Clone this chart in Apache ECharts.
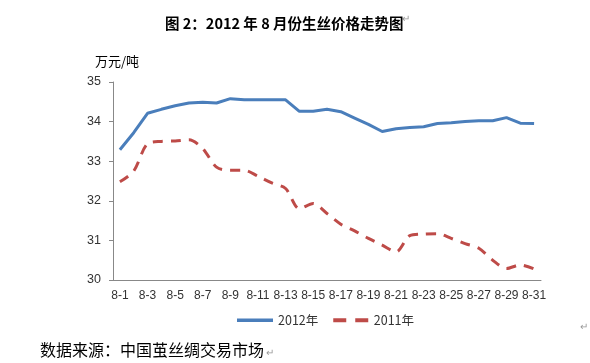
<!DOCTYPE html>
<html><head><meta charset="utf-8">
<script src="https://cdn.jsdelivr.net/npm/echarts@6/dist/echarts.min.js"></script>
<style>html,body{margin:0;padding:0;background:#fff}#c{width:590px;height:363px}</style>
</head><body><div id="c"></div>
<script>
var categories = [];
for (var d = 1; d <= 31; d++) categories.push('8-' + d);
var series2012 = [33.29,33.72,34.21,34.31,34.40,34.47,34.49,34.47,34.58,34.55,34.55,34.55,34.55,34.26,34.26,34.31,34.25,34.09,33.93,33.75,33.82,33.85,33.87,33.95,33.97,34.00,34.02,34.02,34.10,33.96,33.95];
var series2011 = [32.48,32.75,33.44,33.50,33.51,33.54,33.32,32.85,32.77,32.77,32.62,32.45,32.31,31.80,31.93,31.68,31.41,31.24,31.05,30.88,30.71,31.12,31.16,31.17,31.05,30.92,30.80,30.50,30.29,30.38,30.28];
var yTicks = [30,31,32,33,34,35];
var seriesNames = ['2012年','2011年'];

var chart = echarts.init(document.getElementById('c'), null, {renderer:'canvas'});
var txt = '#333';
chart.setOption({
  animation: false,
  backgroundColor: '#fff',
  textStyle: {fontFamily: 'Noto Sans CJK SC, sans-serif'},
  title: {
    text: '图 2：2012 年 8 月份生丝价格走势图',
    left: 160, top: 11,
    textStyle: {fontFamily: 'Noto Sans CJK SC', fontWeight: 'bold', fontSize: 14.5, color: '#000'}
  },
  legend: {
    data: [
      {name: seriesNames[0], icon: 'path://M0,0H40V4H0Z'},
      {name: seriesNames[1], icon: 'path://M0,0H13V4H0Z M22,0H35V4H22Z'}
    ],
    left: 232, top: 309, itemWidth: 36, itemHeight: 4, itemGap: 15,
    textStyle: {fontSize: 12.5, color: txt, fontFamily: 'Noto Sans CJK SC'}
  },
  grid: {left: 113, right: 49, top: 82, bottom: 83},
  xAxis: {
    type: 'category', data: categories, boundaryGap: true,
    axisLine: {lineStyle: {color: '#888'}},
    axisTick: {interval: 1, length: 4, lineStyle: {color: '#888'}},
    axisLabel: {interval: 1, color: txt, fontSize: 12, margin: 10, fontFamily: 'Liberation Sans'}
  },
  yAxis: {
    type: 'value', min: yTicks[0], max: yTicks[yTicks.length-1], interval: 1,
    name: '万元/吨', nameLocation: 'end', nameGap: 14,
    nameTextStyle: {color: '#000', fontSize: 13, align: 'left', padding: [0,0,0,-18], fontFamily: 'Noto Sans CJK SC'},
    axisLine: {show: true, lineStyle: {color: '#888'}},
    axisTick: {show: true, length: 4, lineStyle: {color: '#888'}},
    splitLine: {show: false},
    axisLabel: {color: txt, fontSize: 12.5, margin: 12, fontFamily: 'Liberation Sans'}
  },
  series: [
    {name: seriesNames[0], type: 'line', data: series2012, symbol: 'none',
     lineStyle: {color: '#4a7ebb', width: 3}, itemStyle: {color: '#4a7ebb'}},
    {name: seriesNames[1], type: 'line', data: series2011, symbol: 'none', smooth: 0.3,
     lineStyle: {color: '#be4b48', width: 3, type: [10, 8]}, itemStyle: {color: '#be4b48'}}
  ],
  graphic: [
    {type: 'text', left: 40, top: 342, style: {text: '数据来源：中国茧丝绸交易市场', fontSize: 16, fill: '#000', fontFamily: 'Noto Sans CJK SC'}},
    {type: 'text', left: 402, top: 14, style: {text: '↵', fontSize: 10, fill: '#999'}},
    {type: 'text', left: 266, top: 348, style: {text: '↵', fontSize: 10, fill: '#999'}},
    {type: 'text', left: 580, top: 322, style: {text: '↵', fontSize: 10, fill: '#999'}}
  ]
});
</script></body></html>
